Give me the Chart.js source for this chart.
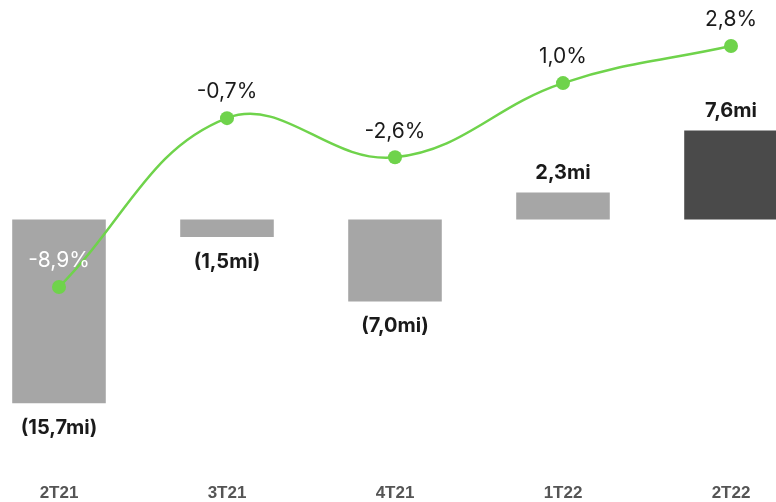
<!DOCTYPE html>
<html>
<head>
<meta charset="utf-8">
<script src="https://cdn.jsdelivr.net/npm/chart.js@4"></script>
<style>
  html, body { margin: 0; padding: 0; background: #fff; overflow: hidden; }
  #chart { position: absolute; left: -25px; top: 0; }
</style>
</head>
<body>
<canvas id="chart" width="840" height="502"></canvas>
<script>
// trimestres
var labels = ['2T21', '3T21', '4T21', '1T22', '2T22'];
// lucro/prejuízo (R$ mi)
var resultado = [-15.7, -1.5, -7.0, 2.3, 7.6];
// margem (%)
var margem = [-8.9, -0.7, -2.6, 1.0, 2.8];

var fmt = function (v) { return Math.abs(v).toFixed(1).replace('.', ','); };

// rótulos dos valores em cima das barras e dos pontos
var rotulos = {
  id: 'rotulos',
  afterDatasetsDraw: function (chart) {
    var ctx = chart.ctx;
    var barras = chart.getDatasetMeta(1).data;
    var pontos = chart.getDatasetMeta(0).data;
    ctx.save();
    ctx.textAlign = 'center';
    ctx.textBaseline = 'middle';

    ctx.font = 'bold 20px Inter';
    ctx.fillStyle = '#1a1a1a';
    barras.forEach(function (b, i) {
      var v = resultado[i];
      if (v < 0) ctx.fillText('(' + fmt(v) + 'mi)', b.x, b.y + 25);
      else ctx.fillText(fmt(v) + 'mi', b.x, b.y - 20);
    });

    ctx.font = '21px Inter';
    pontos.forEach(function (p, i) {
      var y = p.y - 26;
      var b = barras[i];
      var dentro = y > Math.min(b.y, b.base) && y < Math.max(b.y, b.base);
      ctx.fillStyle = dentro ? '#ffffff' : '#1a1a1a';
      var s = margem[i] < 0 ? '-' : '';
      ctx.fillText(s + fmt(margem[i]) + '%', p.x, y);
    });
    ctx.restore();
  }
};

var ctx = document.getElementById('chart').getContext('2d');
var chart = new Chart(ctx, {
  data: {
    labels: labels,
    datasets: [{
      type: 'line',
      data: margem,
      yAxisID: 'yPct',
      borderColor: '#6fd34b',
      backgroundColor: '#6fd34b',
      borderWidth: 2.5,
      tension: 0.4,
      pointRadius: 7,
      pointHoverRadius: 7,
      pointBorderWidth: 0,
      clip: false,
      order: 0
    }, {
      type: 'bar',
      data: resultado,
      yAxisID: 'yMi',
      backgroundColor: ['#a6a6a6', '#a6a6a6', '#a6a6a6', '#a6a6a6', '#4a4a4a'],
      categoryPercentage: 1,
      barPercentage: 0.557,
      order: 1
    }]
  },
  options: {
    responsive: false,
    animation: false,
    layout: { padding: 0, autoPadding: false },
    plugins: { legend: { display: false }, tooltip: { enabled: false } },
    scales: {
      x: {
        grid: { display: false, drawTicks: false },
        border: { display: false },
        ticks: { color: '#555555', font: { family: 'Liberation Sans', size: 17, weight: 'bold' }, padding: 13 },
        afterFit: function (scale) { scale.height = 32; }
      },
      yMi: { display: false, min: -21.41, max: 18.76 },
      yPct: { display: false, min: -17.78, max: 5.034 }
    }
  },
  plugins: [rotulos]
});
</script>
</body>
</html>
